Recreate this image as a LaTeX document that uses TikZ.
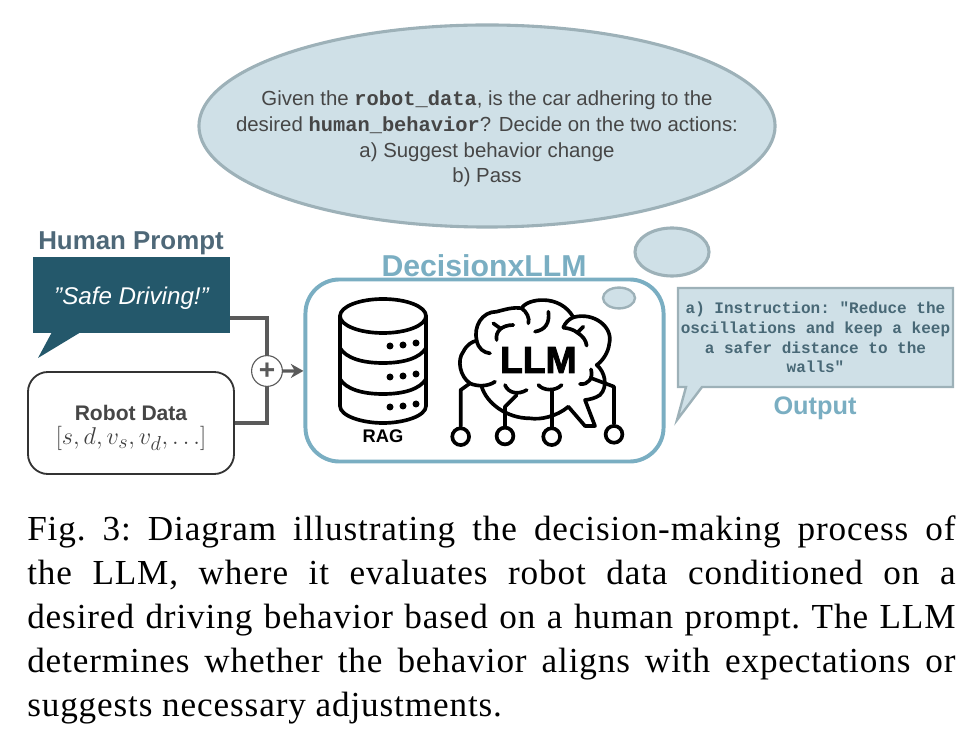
\documentclass[tikz,border=0pt]{standalone}
\usepackage{fontspec}
\setmainfont{Liberation Sans}
\setmonofont{Liberation Mono}
\newfontfamily\captionfont[LetterSpace=2.5]{Liberation Serif}
\newfontfamily\llmfont[FakeBold=2.5]{Liberation Sans Bold}
\usetikzlibrary{arrows.meta, positioning, calc, shapes.geometric}
\definecolor{bubble}{RGB}{207,224,231}
\definecolor{bubbleline}{RGB}{157,177,184}
\definecolor{llmblue}{RGB}{122,174,194}
\definecolor{promptdark}{RGB}{36,88,107}
\definecolor{headgray}{RGB}{78,104,120}
\definecolor{linkgray}{RGB}{90,90,90}
\definecolor{textgray}{RGB}{70,70,70}
\definecolor{outtext}{RGB}{72,104,118}
\tikzset{
  think/.style={ellipse, draw=bubbleline, fill=bubble, line width=2.2pt, inner sep=0pt},
  link/.style={draw=linkgray, line width=2.3pt},
  ink/.style={draw=black, line width=2.6pt, line cap=round, line join=round},
  pin/.style={circle, draw=black, line width=2.6pt, fill=white, minimum size=0.42cm, inner sep=0pt}
}
\begin{document}
\begin{tikzpicture}[x=0.025cm, y=-0.025cm]
\useasboundingbox (0,0) rectangle (966,740);
% Thought bubbles
\node[think, minimum width=14.4cm, minimum height=5.05cm] (ask) at (487,126) {};
\node[align=center, font=\fontsize{14.5}{18.2}\selectfont, text=textgray, inner sep=0pt] (asktext) at (487,139)
  {Given the \textbf{\texttt{robot\_data}}, is the car adhering to the\\
   desired \textbf{\texttt{human\_behavior}}? Decide on the two actions:\\
   a) Suggest behavior change\\ b) Pass};
\node[think, minimum width=1.85cm, minimum height=1.2cm] (midthink) at (672,252) {};
% Human prompt
\node[font=\bfseries\fontsize{18.4}{22}\selectfont, text=headgray] (prompthead) at (131,243) {Human Prompt};
\node[rectangle, fill=promptdark, text=white, minimum width=4.925cm, minimum height=1.9cm, inner sep=0pt, font=\itshape\fontsize{17.2}{20}\selectfont] (prompt) at (131.5,295) {\raisebox{-3pt}[12pt][4pt]{"Safe Driving!"}};
\fill[promptdark] (52,332) -- (38,358) -- (81,332) -- cycle;
% Robot data
\node[rectangle, rounded corners=0.5cm, draw=black!80, line width=1.3pt, fill=white, minimum width=5.15cm, minimum height=2.55cm] (robot) at (131,423) {};
\node[align=center, inner sep=0pt, font=\fontsize{15}{17.5}\selectfont] (robottext) at (131,428)
  {{\bfseries\color{textgray}Robot Data}\\
   {\fontsize{19}{18}\selectfont\color{black!75}$[s,d,v_s,v_d,\ldots]$}};
% Decision box
\node[rectangle, rounded corners=0.85cm, draw=llmblue, line width=2.8pt, fill=white, minimum width=8.95cm, minimum height=4.55cm] (main) at (484.5,370.5) {};
\node[font=\bfseries\fontsize{21.5}{24}\selectfont, text=llmblue] (mainhead) at (484,266) {DecisionxLLM};
\node[think, line width=1.7pt, minimum width=0.8cm, minimum height=0.52cm] (smallthink) at (619,298) {};
% Joining the inputs
\node[circle, draw=linkgray, line width=0.8pt, fill=white, minimum size=0.77cm, inner sep=0pt, text=linkgray, font=\bfseries\fontsize{20}{20}\selectfont] (plus) at (267,371) {+};
\coordinate (promptout) at (230,318);
\draw[link] (promptout) -| (plus);
\draw[link] (robot) -| (plus);
\draw[link, -{Stealth[length=9pt,width=10pt]}] (plus) -- (main);
% RAG database
\draw[ink] (383,316) ellipse (43 and 17);
\draw[ink] (340,316) -- (340,406) .. controls (340,416) and (362,423) .. (383,423) .. controls (404,423) and (426,416) .. (426,406) -- (426,316);
\foreach \y in {348,379} {
  \draw[ink] (340,\y) .. controls (346,\y+10) and (362,\y+15) .. (383,\y+15) .. controls (404,\y+15) and (420,\y+10) .. (426,\y);
}
\foreach \y in {346,377,407} {
  \fill (390,\y) circle (3.5);
  \fill (403,\y-1) circle (3.5);
  \fill (416,\y-3) circle (3.5);
}
\node[font=\bfseries\fontsize{13}{13}\selectfont] (rag) at (383,436) {RAG};
% LLM brain
\begin{scope}[shift={(300,230)}, x=0.00833cm, y=-0.00833cm]
\draw[ink] (510,460) .. controls (480,440) and (470,390) .. (490,365) .. controls (500,345) and (515,335) .. (530,332)
  .. controls (520,290) and (545,245) .. (590,245) .. controls (610,240) and (640,230) .. (665,235)
  .. controls (680,205) and (780,190) .. (820,262) .. controls (880,245) and (940,290) .. (928,340)
  .. controls (925,370) and (905,395) .. (890,405) .. controls (915,425) and (925,470) .. (900,495)
  .. controls (885,505) and (870,508) .. (855,510) -- (885,588) -- (855,588) -- (805,530)
  .. controls (770,560) and (720,570) .. (690,565) .. controls (620,565) and (560,520) .. (545,470);
\draw[ink] (530,332) .. controls (535,355) and (550,368) .. (570,370);
\draw[ink] (665,235) .. controls (680,245) and (690,265) .. (685,280);
\draw[ink] (820,262) .. controls (805,268) and (795,280) .. (790,292);
\draw[ink] (590,330) .. controls (585,305) and (605,285) .. (640,285);
\draw[ink] (580,280) -- (602,296);
\draw[ink] (705,305) .. controls (735,300) and (750,280) .. (745,245);
\draw[ink] (790,293) .. controls (805,295) and (820,298) .. (832,308);
\draw[ink] (850,290) -- (832,308) .. controls (848,318) and (858,330) .. (860,347);
\draw[ink] (510,460) .. controls (530,470) and (565,470) .. (585,455);
\draw[ink] (615,465) .. controls (625,490) and (655,495) .. (680,480);
\draw[ink] (715,465) .. controls (730,482) and (765,485) .. (785,465);
\draw[ink] (840,462) .. controls (865,465) and (880,445) .. (873,418);
% wires to the pins
\node[pin] (pina) at (482,620) {};
\node[pin] (pinb) at (615,618) {};
\node[pin] (pinc) at (755,620) {};
\node[pin] (pind) at (942,613) {};
\draw[ink] (510,460) -- (482,480) -- (pina);
\draw[ink] (650,495) -- (615,530) -- (pinb);
\draw[ink] (755,482) -- (pinc);
\draw[ink] (875,445) -- (942,470) -- (pind);
\node[font=\llmfont\fontsize{26.5}{28}\selectfont] (llm) at (715,390) {LLM};
\end{scope}
% Output bubble
\filldraw[draw=bubbleline, fill=bubble, line width=1.7pt, line join=miter] (678,288) -- (953,288) -- (953,387) -- (702,387) -- (677,420) -- (686,387) -- (678,387) -- cycle;
\node[font=\ttfamily\bfseries\fontsize{11.4}{14}\selectfont, text=outtext, align=center, inner sep=0pt] (answer) at (815.5,337.5)
  {a) Instruction: "Reduce the\\ oscillations and keep a keep\\ a safer distance to the\\ walls"};
\node[font=\bfseries\fontsize{18}{20}\selectfont, text=llmblue] (outhead) at (815,408) {Output};
% Caption
\node[anchor=north west, inner sep=0pt, text width=23.2cm, align=justify, font=\captionfont\frenchspacing\fontsize{25}{31.3}\selectfont] (caption) at (27,515)
  {Fig. 3: Diagram illustrating the decision-making process of\linebreak
   the LLM, where it evaluates robot data conditioned on a\linebreak
   desired driving behavior based on a human prompt. The LLM\linebreak
   determines whether the behavior aligns with expectations or\linebreak
   suggests necessary adjustments.};
\end{tikzpicture}
\end{document}
